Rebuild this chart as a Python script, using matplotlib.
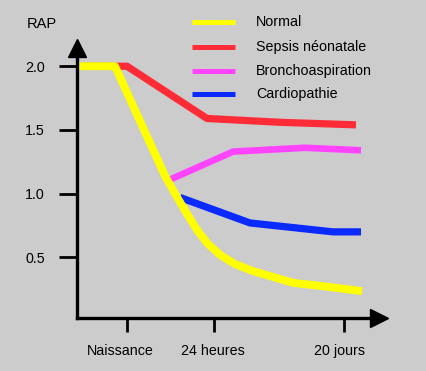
import matplotlib
matplotlib.use("Agg")
import matplotlib.pyplot as plt
import matplotlib.transforms as mtransforms
from matplotlib.lines import Line2D

plt.rcParams['font.family'] = ['Liberation Sans', 'DejaVu Sans']

# data (x in arbitrary time units, y = RAP)
x_ticks = [50, 137, 267]
x_labels = ['Naissance', '24 heures', '20 jours']
y_ticks = [0.5, 1.0, 1.5, 2.0]

normal_x = [0, 38, 88, 98, 109, 120, 131, 143, 158, 176, 193, 216, 250, 285]
normal_y = [2.0, 2.0, 1.14, 1.0, 0.855, 0.715, 0.605, 0.52, 0.447, 0.392, 0.353, 0.30, 0.27, 0.235]

sepsis_x = [0, 50, 130, 203, 279]
sepsis_y = [2.0, 2.0, 1.59, 1.56, 1.54]

broncho_x = [93, 156, 228, 284]
broncho_y = [1.11, 1.33, 1.36, 1.34]

cardio_x = [103, 173, 256, 284]
cardio_y = [0.97, 0.77, 0.70, 0.70]

names = ['Normal', 'Sepsis néonatale', 'Bronchoaspiration', 'Cardiopathie']
colors = ['#ffff00', '#ff2b36', '#ff44ff', '#0a2aff']

W, H = 427, 371
fig = plt.figure(figsize=(W / 100, H / 100), dpi=100)
fig.patch.set_facecolor('#cccccc')
ax = fig.add_axes([77 / W, 1 - 318 / H, 302 / W, 269.6 / H])
ax.set_facecolor('#cccccc')

ax.plot(sepsis_x, sepsis_y, color=colors[1], lw=5.2, solid_capstyle='butt', zorder=2)
ax.plot(broncho_x, broncho_y, color=colors[2], lw=4.8, solid_capstyle='butt', zorder=2)
ax.plot(cardio_x, cardio_y, color=colors[3], lw=5.2, solid_capstyle='butt', zorder=2)
ax.plot(normal_x, normal_y, color=colors[0], lw=5.7, solid_capstyle='butt',
        solid_joinstyle='round', zorder=3)

ax.set_xlim(0, 302)
ax.set_ylim(0.024, 2.14)
for s in ['top', 'right']:
    ax.spines[s].set_visible(False)
for s in ['left', 'bottom']:
    ax.spines[s].set_linewidth(2.4)
    ax.spines[s].set_color('black')
    ax.spines[s].set_zorder(5)

ax.set_xticks(x_ticks)
ax.set_xticklabels(x_labels)
ax.set_yticks(y_ticks)
ax.set_yticklabels(['%.1f' % v for v in y_ticks])
ax.tick_params(axis='y', length=13, width=2, pad=10, labelsize=10.3)
ax.tick_params(axis='x', length=10, width=2, pad=9, labelsize=10.3)

# small horizontal shifts of the x labels, as in the original
for lab, dx in zip(ax.get_xticklabels(), [-7, -1, -4]):
    lab.set_transform(lab.get_transform() + mtransforms.ScaledTranslation(dx / 100, 0, fig.dpi_scale_trans))

# arrow heads
ax.plot([0], [2.14], marker='^', markersize=13, color='black', clip_on=False, zorder=6)
ax.plot([302], [0.024], marker='>', markersize=13, color='black', clip_on=False, zorder=6)

fig.text(42 / W, 1 - 24 / H, 'RAP', ha='center', va='center', fontsize=10.5)

# legend
leg_y = [22, 47, 71, 94]
for name, c, yy in zip(names, colors, leg_y):
    fig.add_artist(Line2D([192 / W, 235 / W], [1 - yy / H] * 2, color=c, lw=3.6,
                          solid_capstyle='butt'))
    fig.text(256 / W, 1 - yy / H, name, ha='left', va='center', fontsize=10.3)

fig.savefig('out.png', dpi=100, facecolor=fig.get_facecolor())
